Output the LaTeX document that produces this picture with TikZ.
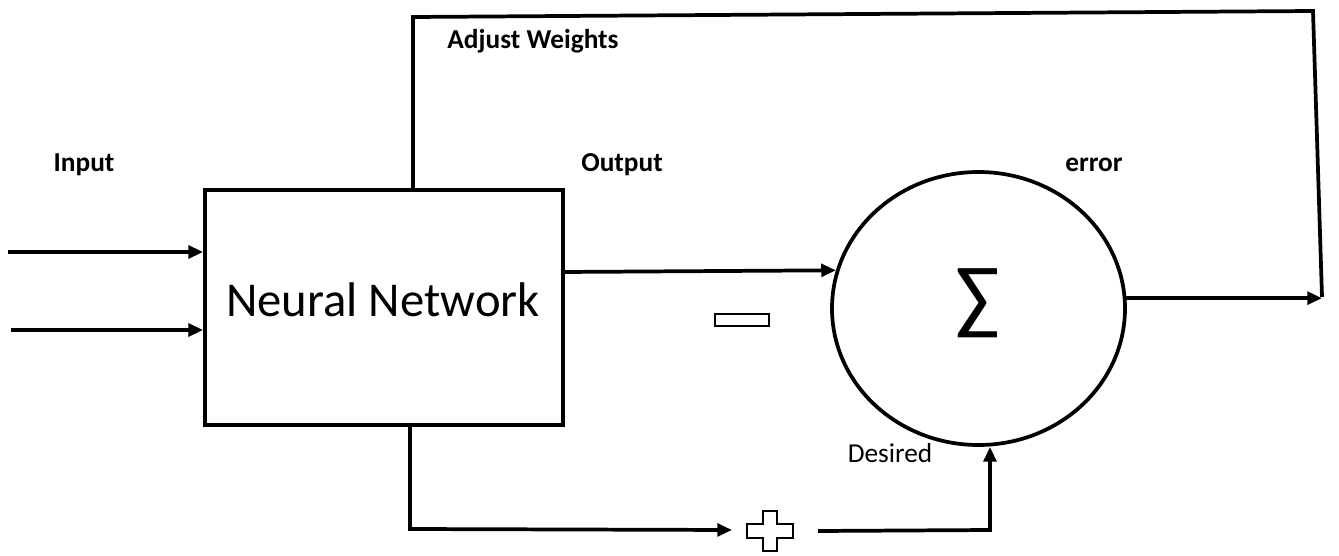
\documentclass[tikz,border=0pt]{standalone}
\usepackage{fontspec}
\setmainfont{Carlito}
\usetikzlibrary{arrows.meta,shapes.geometric,calc}
\begin{document}
\begin{tikzpicture}[x=0.75pt,y=-0.75pt,
  line/.style={line width=2.8pt,line join=miter},
  arr/.style={line, -{Triangle[length=11pt,width=9.5pt]}},
  lbl/.style={font=\bfseries\fontsize{20.5}{24}\selectfont, inner sep=0pt},
  box/.style={draw, line width=2.8pt, minimum width=268.5pt, minimum height=176.25pt, inner sep=0pt},
  sumnode/.style={draw, ellipse, line width=2.8pt, minimum width=219.75pt, minimum height=204.75pt, inner sep=0pt},
  sign/.style={line width=2.2pt}]
\useasboundingbox (0,0) rectangle (1339,556);
% nodes
\node (nn) [box] at (384,307.5) {};
\node (nntext) [font=\fontsize{36.5}{42}\selectfont, inner sep=0pt] at (383,300) {Neural Network};
\node (sum) [sumnode] at (978.5,308.5) {};
\node (sig) [font=\fontsize{62}{70}\selectfont, inner sep=0pt] at (978,303) {∑};
% labels
\node (in) [lbl] at (84,165) {Input};
\node (out) [lbl] at (622,165) {Output};
\node (err) [lbl] at (1094,165) {error};
\node (adj) [lbl] at (533,41) {Adjust Weights};
\node (des) [font=\fontsize{20.5}{24}\selectfont, inner sep=0pt] at (890,453) {Desired};
% coordinates
\coordinate (i1) at (8,252);
\coordinate (i2) at (11,330);
\coordinate (fbTop) at (413,17);
\coordinate (fbCorner) at (1313,11);
\coordinate (fbEnd) at (1322,297);
\coordinate (o1) at (563,272);
\coordinate (botA) at (410,529);
\coordinate (plusc) at (770,531);
\coordinate (plusL) at (732,530);
\coordinate (plusR) at (818,531);
\coordinate (desC) at (990,530);
% input arrows
\draw[arr] (i1) -- (i1 -| nn.west);
\draw[arr] (i2) -- (i2 -| nn.west);
% output
\draw[arr] (o1) -- (sum.165);
% error
\draw[arr] (sum.4) -- (sum.4 -| fbEnd);
% feedback
\draw[line] (nn.north -| fbTop) -- (fbTop) -- (fbCorner) -- (fbEnd);
% bottom path
\draw[arr] (nn.south -| botA) -- (botA) -- (plusL);
\draw[arr] (plusR) -- (desC) -- (sum.south -| desC);
% plus sign
\draw[sign] ($(plusc)+(-7,-20)$) -- ($(plusc)+(7,-20)$) -- ($(plusc)+(7,-7)$) -- ($(plusc)+(23,-7)$) -- ($(plusc)+(23,7)$) -- ($(plusc)+(7,7)$) -- ($(plusc)+(7,20)$) -- ($(plusc)+(-7,20)$) -- ($(plusc)+(-7,7)$) -- ($(plusc)+(-23,7)$) -- ($(plusc)+(-23,-7)$) -- ($(plusc)+(-7,-7)$) -- cycle;
% minus sign
\draw[sign] (715,314) rectangle (769,326);
\end{tikzpicture}
\end{document}
